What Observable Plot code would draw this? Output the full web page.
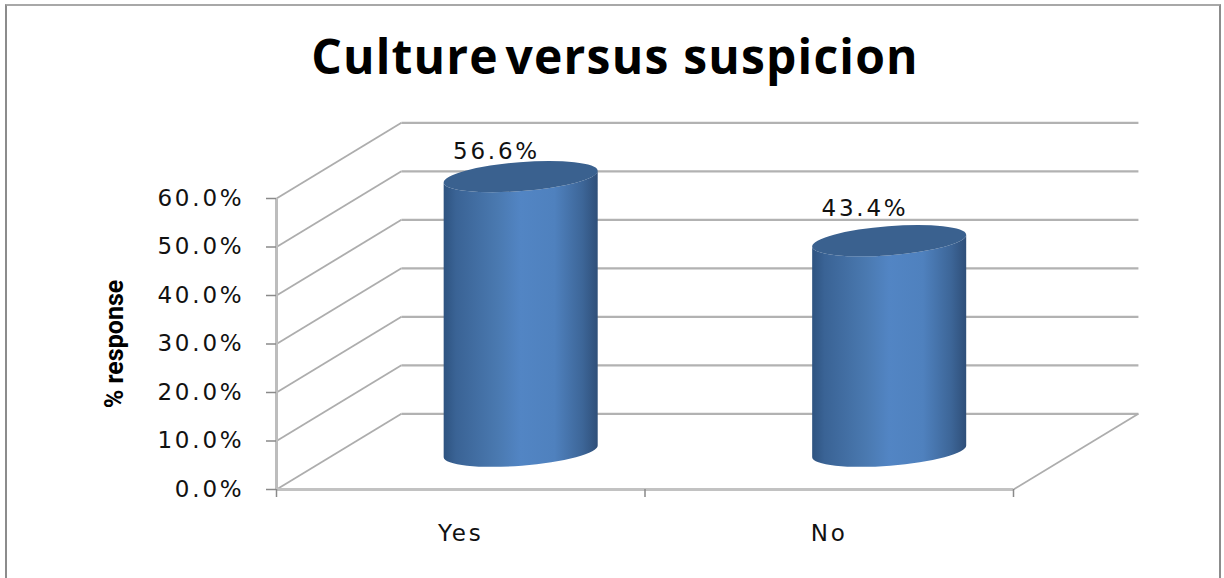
<!DOCTYPE html>
<html>
<head>
<meta charset="utf-8">
<script src="https://cdn.jsdelivr.net/npm/d3@7"></script>
<script src="https://cdn.jsdelivr.net/npm/@observablehq/plot@0.6"></script>
<style>
  html, body { margin: 0; padding: 0; background: #fff; }
  #chart { position: relative; width: 1224px; height: 578px; overflow: hidden; }
  #frame { position: absolute; left: 5px; top: 4px; width: 1216px; height: 580px; box-sizing: border-box;
           border-top: 2px solid #a8a8a8; border-left: 2px solid #8c8c8c; border-right: 2px solid #8c8c8c; }
  h1 { position: relative; margin: 0; height: 100px; box-sizing: border-box; padding-top: 28px; text-align: center; width: 1230px;
       font: 700 48px/56px "Open Sans", sans-serif; letter-spacing: 1.2px; color: #000; word-spacing: 0; }
  h1 span { word-spacing: -7px; }
  svg { display: block; position: relative; }
  g[font-family="DejaVu Sans"] text { letter-spacing: 2.8px; }
</style>
</head>
<body>
<div id="chart"><div id="frame"></div><h1><span>Culture </span>versus suspicion</h1></div>
<script>
const categories = ["Yes", "No"];
const values = [56.6, 43.4];
const yTicks = [0, 10, 20, 30, 40, 50, 60];

// Oblique projection of the floor: how far the back wall sits from the front plane, in axis units.
const depthX = 0.339;
const depthY = 15.6;
const cylinderWidth = 0.418;
const cylinderShift = 0.164;
const labelRaise = [0, 1.45];
const xMax = categories.length;

const rows = categories.map((name, i) => ({name, i, value: values[i]}));
const gridColor = "#b2b2b2";

// Draws each cylinder at mid depth, using the plot's scales for position and height.
function cylinders(index, {x, y}) {
  const ns = "http://www.w3.org/2000/svg";
  const g = document.createElementNS(ns, "g");
  const defs = document.createElementNS(ns, "defs");
  defs.innerHTML = `<linearGradient id="body" x1="0" x2="1" y1="0" y2="0">
    <stop offset="0" stop-color="#2e5380"/>
    <stop offset="0.08" stop-color="#3a6395"/>
    <stop offset="0.35" stop-color="#4a79b0"/>
    <stop offset="0.5" stop-color="#5285c4"/>
    <stop offset="0.72" stop-color="#4f81be"/>
    <stop offset="0.9" stop-color="#3d6698"/>
    <stop offset="1" stop-color="#2f4f79"/>
  </linearGradient>`;
  g.appendChild(defs);
  const tilt = 6, ry = 14.5;
  for (const d of rows) {
    const cx = x(d.i + 0.5 + cylinderShift);
    const half = (x(cylinderWidth) - x(0)) / 2;
    const yTop = y(d.value + depthY / 2);
    const yBase = y(depthY / 2);
    const rx = Math.hypot(half, tilt);
    const rot = -Math.atan2(tilt, half) * 180 / Math.PI;
    const l = cx - half, r = cx + half;
    const body = document.createElementNS(ns, "path");
    body.setAttribute("d",
      `M${l},${yTop + tilt}L${l},${yBase + tilt}` +
      `A${rx},${ry} ${rot} 0 0 ${r},${yBase - tilt}` +
      `L${r},${yTop - tilt}` +
      `A${rx},${ry} ${rot} 0 1 ${l},${yTop + tilt}Z`);
    body.setAttribute("fill", "url(#body)");
    g.appendChild(body);
    const cap = document.createElementNS(ns, "ellipse");
    cap.setAttribute("cx", cx);
    cap.setAttribute("cy", yTop);
    cap.setAttribute("rx", rx);
    cap.setAttribute("ry", ry);
    cap.setAttribute("transform", `rotate(${rot} ${cx} ${yTop})`);
    cap.setAttribute("fill", "#3a618f");
    g.appendChild(cap);
  }
  return g;
}

const chart = Plot.plot({
  width: 1224,
  height: 478,
  marginTop: 98,
  marginBottom: 89,
  marginLeft: 276,
  marginRight: 211,
  x: {domain: [0, xMax], axis: null},
  y: {domain: [0, 60], axis: null},
  marks: [
    // side wall and floor diagonals
    Plot.link(yTicks, {x1: 0, y1: d => d, x2: depthX, y2: d => d + depthY, stroke: "#adadad", strokeWidth: 1.8}),
    // back wall gridlines
    Plot.link(yTicks, {x1: depthX, y1: d => d + depthY, x2: xMax + depthX, y2: d => d + depthY, stroke: gridColor, strokeWidth: 2.2}),
    // right edge of the floor
    Plot.link([0], {x1: xMax, y1: 0, x2: xMax + depthX, y2: depthY, stroke: "#adadad", strokeWidth: 1.8}),
    // front axis lines
    Plot.ruleX([0], {y1: 0, y2: 60, stroke: "#bdbdbd", strokeWidth: 3}),
    Plot.ruleY([0], {x1: 0, x2: xMax, stroke: "#c2c2c2", strokeWidth: 3}),
    Plot.axisY({
      ticks: yTicks, tickSize: 10, tickPadding: 22, stroke: "#8a8a8a", strokeWidth: 1.5,
      tickFormat: d => d.toFixed(1) + "%", fontSize: 23, fontFamily: "DejaVu Sans", fill: "#111", label: null
    }),
    Plot.axisX({ticks: d3.range(xMax + 1), tickSize: 8, stroke: "#8a8a8a", strokeWidth: 1.5, tickFormat: () => "", label: null}),
    Plot.axisX({
      ticks: rows.map(d => d.i + 0.5), tickSize: 0, tickPadding: 35, label: null,
      tickFormat: d => categories[d - 0.5], fontSize: 23, fontFamily: "DejaVu Sans", fill: "#111"
    }),
    cylinders,
    // value labels sit just above each cap
    Plot.text(rows, {
      x: d => d.i + 0.597, y: d => d.value + depthY / 2 + labelRaise[d.i], dy: -26,
      text: d => d.value.toFixed(1) + "%", fontSize: 23, fontFamily: "DejaVu Sans", fill: "#111"
    }),
    Plot.text(["% response"], {
      frameAnchor: "left", dx: -162, y: [30], rotate: -90, textAnchor: "middle",
      fontSize: 25, fontWeight: 700, fontFamily: "Liberation Sans Narrow, Roboto", fill: "#000"
    })
  ]
});
chart.style.background = "transparent";
document.getElementById("chart").appendChild(chart);
</script>
</body>
</html>
